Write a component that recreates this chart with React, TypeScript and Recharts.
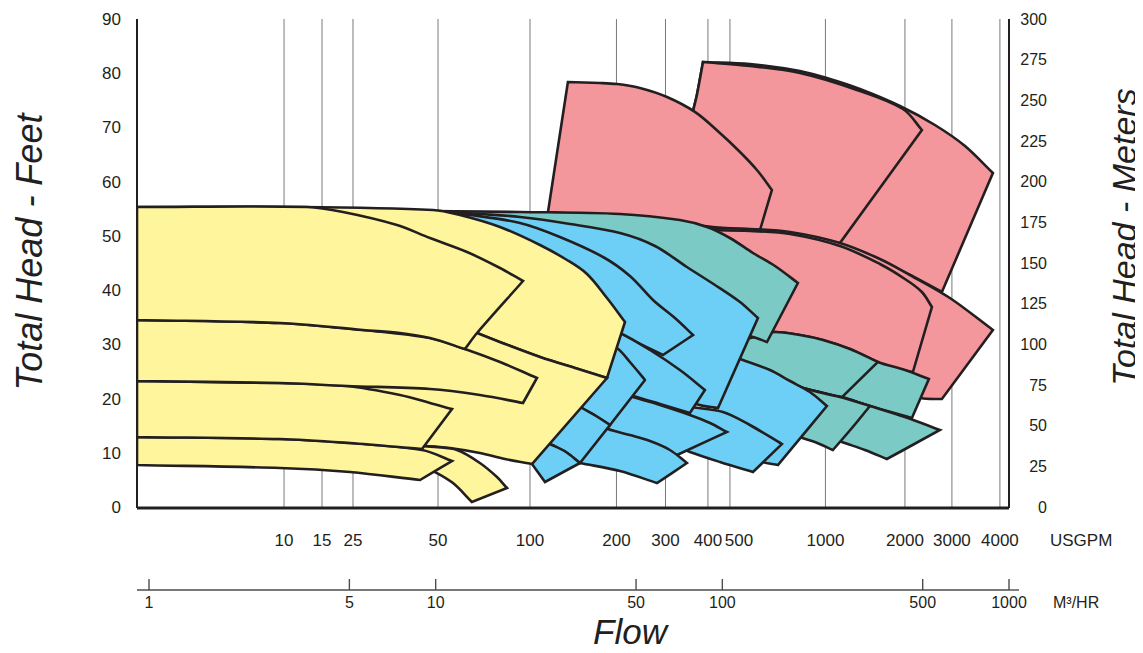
import React from "react";
import { ComposedChart, Scatter, XAxis, YAxis, CartesianGrid } from "recharts";

// every tile is a closed outline: [flow m³/hr, total head ft]
const pinkUpperWide = [[85.58, 82.07], [124.8, 81.7], [186.5, 80.41], [237.3, 78.94], [302.0, 77.1], [416.4, 73.96], [551.6, 70.45], [702.0, 66.58], [879.0, 61.6], [583.4, 39.65], [416.4, 43.71], [257.2, 48.14], [158.8, 49.99], [98.09, 50.54], [75.86, 50.72], [75.86, 65.85], [78.98, 72.86], [81.55, 75.99]];
const pinkUpperNarrow = [[85.58, 82.07], [124.8, 81.34], [186.5, 80.05], [294.8, 76.91], [426.6, 73.41], [496.9, 69.53], [257.2, 48.69], [158.8, 49.99], [98.09, 50.54], [75.86, 50.72], [75.86, 65.85], [78.98, 72.86], [81.55, 75.99]];
const pinkSmall = [[28.93, 78.38], [37.42, 78.2], [42.9, 78.02], [51.59, 77.27], [64.09, 75.62], [80.25, 72.86], [98.09, 68.98], [115.2, 65.48], [132.0, 62.16], [148.9, 58.47], [135.3, 51.09], [92.73, 51.65], [43.94, 53.49], [24.65, 54.41]];
const pinkLowerWide = [[86.96, 51.46], [124.8, 51.27], [172.2, 50.72], [257.2, 48.69], [354.6, 45.74], [451.1, 42.79], [622.1, 38.55], [879.0, 32.64], [583.4, 19.92], [492.9, 20.11], [354.6, 22.5], [186.5, 27.12], [115.2, 29.87], [86.96, 30.8]];
const pinkLowerNarrow = [[86.96, 51.09], [124.8, 50.9], [172.2, 50.35], [257.2, 48.14], [354.6, 44.81], [433.5, 42.06], [496.9, 39.65], [538.5, 36.88], [462.2, 24.9], [354.6, 26.19], [186.5, 28.96], [115.2, 30.25], [86.96, 30.8]];

const tealMidWide = [[83.54, 29.87], [115.2, 30.8], [143.1, 31.91], [152.6, 32.28], [186.5, 31.72], [224.3, 30.8], [278.7, 29.14], [349.0, 26.74], [433.5, 25.27], [525.6, 23.61], [458.5, 16.42], [327.2, 18.63], [261.4, 20.28], [191.1, 21.94], [146.6, 23.79], [115.2, 25.27], [83.54, 27.12]];
const tealMidNarrow = [[83.54, 29.87], [115.2, 30.8], [143.1, 31.91], [152.6, 32.28], [186.5, 31.72], [224.3, 30.8], [278.7, 29.14], [349.0, 26.74], [261.4, 20.28], [191.1, 21.94], [146.6, 23.79], [115.2, 25.27], [83.54, 27.12]];
const tealLowWide = [[172.2, 23.05], [191.1, 21.94], [257.2, 20.28], [327.2, 18.63], [433.5, 16.6], [574.1, 14.2], [375.1, 8.85], [314.3, 10.52], [261.4, 11.99], [202.1, 14.2], [172.2, 16.04]];
const tealLowNarrow = [[172.2, 23.05], [191.1, 21.94], [257.2, 20.28], [327.2, 18.63], [283.2, 14.57], [243.1, 10.52], [210.4, 11.99], [186.5, 12.91], [172.2, 13.84]];
const tealUpper = [[9.786, 54.59], [19.68, 54.41], [43.94, 54.04], [71.13, 52.93], [88.37, 51.65], [106.3, 49.61], [127.9, 46.85], [152.6, 44.45], [183.5, 41.31], [143.1, 30.43], [127.9, 31.36], [98.09, 33.02], [55.92, 38.18], [25.05, 46.48], [12.16, 52.01], [10.35, 53.85]];

const blueFarMid = [[94.24, 28.96], [118.0, 27.12], [146.6, 25.27], [172.2, 23.24], [202.1, 21.21], [231.7, 18.63], [156.3, 7.75], [135.3, 8.49], [110.7, 11.43], [94.24, 14.2]];
const blueTopWide = [[9.786, 54.59], [14.27, 54.04], [19.68, 53.49], [29.41, 52.2], [43.94, 50.54], [58.21, 48.14], [75.24, 44.26], [94.24, 40.95], [115.2, 37.81], [133.1, 34.86], [96.54, 18.26], [80.9, 19.0], [65.65, 21.58], [51.59, 25.27], [37.42, 29.87], [27.13, 34.86], [16.76, 42.79], [11.22, 50.16]];
const blueTopNarrow = [[9.786, 54.59], [13.17, 53.85], [19.68, 52.38], [27.13, 49.8], [38.33, 46.11], [47.61, 42.61], [57.29, 38.18], [68.34, 34.86], [78.98, 31.72], [62.06, 28.04], [51.59, 30.06], [42.22, 32.09], [31.87, 37.26], [19.68, 45.56], [12.16, 52.01]];
const blueFarLow = [[60.59, 19.74], [78.34, 18.44], [100.5, 17.53], [124.8, 15.12], [161.4, 11.62], [127.9, 6.45], [98.09, 8.3], [77.09, 10.15], [60.59, 12.35]];
const blueMidUpper = [[34.53, 34.12], [43.94, 32.09], [55.92, 28.96], [71.13, 25.27], [86.96, 21.58], [77.09, 17.34], [60.59, 19.0], [48.77, 20.47], [34.53, 22.5]];
const blueMidLower = [[34.53, 23.05], [48.77, 20.28], [60.59, 18.81], [77.09, 16.97], [90.53, 15.49], [103.8, 13.84], [69.45, 9.6], [51.59, 12.35], [40.55, 14.2], [34.53, 15.12]];
const blueMidBottom = [[34.53, 16.04], [39.9, 14.39], [47.61, 13.28], [55.92, 12.18], [65.65, 10.52], [75.24, 8.11], [59.16, 4.42], [43.94, 6.64], [31.87, 8.11], [28.25, 8.67]];
const blueSmallA = [[30.62, 31.72], [37.42, 30.8], [42.9, 29.32], [47.61, 26.74], [53.71, 23.43], [40.55, 15.12], [36.24, 16.78], [32.38, 18.26], [29.41, 19.74]];
const blueSmallB = [[29.41, 19.74], [32.38, 18.26], [36.24, 16.78], [40.55, 15.12], [31.87, 8.11], [28.47, 10.15], [25.45, 11.43], [23.11, 12.35]];
const blueSmallC = [[23.11, 12.35], [25.45, 11.43], [28.47, 10.15], [31.87, 8.11], [24.06, 4.61], [21.67, 7.93], [20.49, 9.6]];

const yellowTopWide = [[0.908, 55.33], [3.363, 55.33], [9.786, 54.78], [12.16, 53.85], [16.76, 51.65], [23.11, 48.32], [28.71, 45.56], [33.71, 42.98], [39.58, 38.55], [45.74, 34.12], [39.58, 23.79], [30.62, 25.63], [23.11, 27.67], [17.45, 30.06], [13.94, 32.09], [7.507, 38.18], [0.908, 40.02]];
const yellowMidWide = [[0.908, 43.71], [3.363, 42.79], [7.507, 38.18], [11.22, 34.12], [13.94, 32.09], [17.45, 30.06], [23.11, 27.67], [30.62, 25.63], [39.58, 23.79], [21.67, 7.93], [17.45, 8.85], [14.27, 9.96], [11.22, 10.88], [9.031, 11.25], [3.363, 10.15], [0.908, 10.52]];
const yellowTail = [[8.815, 11.25], [9.945, 11.07], [11.87, 10.52], [14.27, 8.11], [16.36, 5.53], [17.73, 3.5], [13.38, 0.92], [11.49, 4.42], [9.945, 6.45], [8.815, 7.56]];
const yellowBottom = [[0.908, 12.91], [2.863, 12.54], [5.024, 11.8], [8.958, 10.52], [11.4, 8.49], [8.815, 4.98], [5.024, 6.45], [2.863, 7.19], [0.908, 7.75]];
const yellowLow = [[0.908, 23.24], [2.863, 22.87], [4.904, 22.32], [7.507, 20.66], [9.552, 19.19], [11.4, 18.08], [8.958, 10.69], [5.024, 11.8], [2.863, 12.54], [0.908, 12.91]];
const yellowMid = [[0.908, 34.49], [2.863, 33.94], [5.577, 32.64], [9.552, 31.17], [12.65, 29.14], [16.76, 26.74], [22.56, 23.79], [20.16, 19.19], [14.27, 20.66], [9.552, 21.77], [4.904, 22.32], [2.863, 22.87], [0.908, 23.24]];
const yellowTop = [[0.908, 55.33], [3.557, 55.33], [4.75, 54.41], [7.328, 52.01], [9.552, 49.61], [12.86, 47.03], [16.76, 44.08], [20.16, 41.68], [13.94, 32.09], [12.65, 29.14], [9.552, 31.17], [7.507, 32.09], [5.577, 32.64], [2.863, 33.94], [0.908, 34.49]];

// axes
const headFeetTicks = [0, 10, 20, 30, 40, 50, 60, 70, 80, 90];
const headMeterTicks = [0, 25, 50, 75, 100, 125, 150, 175, 200, 225, 250, 275, 300];
const usgpmLabels = [10, 15, 25, 50, 100, 200, 300, 400, 500, 1000, 2000, 3000, 4000];
// where each printed USGPM label sits on the m³/hr flow scale
const usgpmAtFlow = [2.958, 4.013, 5.147, 10.19, 21.33, 42.72, 63.34, 89.08, 106.3, 228.9, 433.5, 632.2, 929.6];
const m3Ticks = [1, 5, 10, 50, 100, 500, 1000];

const PINK = "#f4979c";
const TEAL = "#7bcac5";
const BLUE = "#6dcff6";
const YELLOW = "#fff59c";
const INK = "#231f20";
const FONT = "'Liberation Sans', Arial, Helvetica, sans-serif";

// back to front
const tiles = [
  { pts: pinkUpperWide, fill: PINK },
  { pts: pinkUpperNarrow, fill: PINK },
  { pts: pinkSmall, fill: PINK },
  { pts: pinkLowerWide, fill: PINK },
  { pts: pinkLowerNarrow, fill: PINK },
  { pts: tealMidWide, fill: TEAL },
  { pts: tealMidNarrow, fill: TEAL },
  { pts: tealLowWide, fill: TEAL },
  { pts: tealLowNarrow, fill: TEAL },
  { pts: tealUpper, fill: TEAL },
  { pts: blueFarMid, fill: BLUE },
  { pts: blueTopWide, fill: BLUE },
  { pts: blueTopNarrow, fill: BLUE },
  { pts: blueFarLow, fill: BLUE },
  { pts: blueMidUpper, fill: BLUE },
  { pts: blueMidLower, fill: BLUE },
  { pts: blueMidBottom, fill: BLUE },
  { pts: blueSmallA, fill: BLUE },
  { pts: blueSmallB, fill: BLUE },
  { pts: blueSmallC, fill: BLUE },
  { pts: yellowTopWide, fill: YELLOW },
  { pts: yellowMidWide, fill: YELLOW },
  { pts: yellowTail, fill: YELLOW },
  { pts: yellowBottom, fill: YELLOW },
  { pts: yellowLow, fill: YELLOW },
  { pts: yellowMid, fill: YELLOW },
  { pts: yellowTop, fill: YELLOW },
];

const toRows = (a: number[][]) => a.map(([q, h]) => ({ q, h }));

// closed outline, curves smoothed, sharp turns kept as corners
function smoothClosed(pts: { x: number; y: number }[]) {
  const n = pts.length;
  const at = (i: number) => pts[(i + n) % n];
  const corner: boolean[] = [];
  const dir: { x: number; y: number }[] = [];
  for (let i = 0; i < n; i++) {
    const a = at(i - 1), b = at(i), c = at(i + 1);
    const ux = b.x - a.x, uy = b.y - a.y, vx = c.x - b.x, vy = c.y - b.y;
    const lu = Math.hypot(ux, uy) || 1, lv = Math.hypot(vx, vy) || 1;
    const cos = (ux * vx + uy * vy) / (lu * lv);
    corner.push(cos < 0.82);
    const dx = c.x - a.x, dy = c.y - a.y, ld = Math.hypot(dx, dy) || 1;
    dir.push({ x: dx / ld, y: dy / ld });
  }
  let d = `M${pts[0].x.toFixed(1)},${pts[0].y.toFixed(1)}`;
  for (let i = 0; i < n; i++) {
    const p = at(i), q = at(i + 1);
    const sx = q.x - p.x, sy = q.y - p.y, len = Math.hypot(sx, sy);
    const j = (i + 1) % n;
    const c1 = corner[i] ? { x: p.x + sx / 3, y: p.y + sy / 3 } : { x: p.x + (dir[i].x * len) / 3, y: p.y + (dir[i].y * len) / 3 };
    const c2 = corner[j] ? { x: q.x - sx / 3, y: q.y - sy / 3 } : { x: q.x - (dir[j].x * len) / 3, y: q.y - (dir[j].y * len) / 3 };
    d += ` C${c1.x.toFixed(1)},${c1.y.toFixed(1)} ${c2.x.toFixed(1)},${c2.y.toFixed(1)} ${q.x.toFixed(1)},${q.y.toFixed(1)}`;
  }
  return d + " Z";
}

const outline = (fill: string) => (p: any) => {
  const pts = p.points || [];
  if (!pts.length) return null;
  return <path d={smoothClosed(pts)} fill={fill} stroke={INK} strokeWidth={2.6} strokeLinejoin="miter" />;
};

const noDot = () => null;

function GpmTick(props: any) {
  const { x, y, payload } = props;
  const label = usgpmLabels[usgpmAtFlow.indexOf(payload.value)];
  const nudge = label === 500 ? 9 : 0;
  return (
    <text x={x + nudge} y={y} dy="0.71em" textAnchor="middle" fontSize={17} fill={INK} fontFamily={FONT}>
      {label}
    </text>
  );
}

function M3Tick(props: any) {
  const { x, y, payload } = props;
  const last = payload.value === m3Ticks[m3Ticks.length - 1];
  return (
    <g>
      <line x1={x} x2={x} y1={y - 11} y2={y} stroke="#4d4d4d" strokeWidth={1.4} />
      {last && <line x1={x} x2={x + 10} y1={y} y2={y} stroke="#4d4d4d" strokeWidth={1.4} />}
      <text x={x} y={y + 18} textAnchor="middle" fontSize={16} fill={INK} fontFamily={FONT}>
        {payload.value}
      </text>
    </g>
  );
}

function MeterTick(props: any) {
  const { x, y, payload } = props;
  return (
    <text x={x + 38} y={y} dy="0.355em" textAnchor="end" fontSize={16} fill={INK} fontFamily={FONT}>
      {payload.value}
    </text>
  );
}

const title: React.CSSProperties = {
  position: "absolute",
  whiteSpace: "nowrap",
  fontStyle: "italic",
  color: INK,
  lineHeight: "30px",
};

export default function App() {
  return (
    <div style={{ position: "relative", width: 1135, height: 645, fontFamily: FONT }}>
      <ComposedChart width={1135} height={645} margin={{ top: 11, right: 74, bottom: 23, left: 69 }}>
        <CartesianGrid horizontal={false} stroke="#7a7a7a" strokeWidth={1} />
        <XAxis
          xAxisId={0}
          dataKey="q"
          type="number"
          scale="log"
          domain={[0.908, 1000]}
          allowDataOverflow
          ticks={usgpmAtFlow}
          interval={0}
          height={82}
          tickLine={false}
          tickSize={0}
          tickMargin={26}
          axisLine={{ stroke: INK, strokeWidth: 3 }}
          tick={<GpmTick />}
        />
        <XAxis
          xAxisId="m3"
          dataKey="q"
          type="number"
          scale="log"
          domain={[0.908, 1000]}
          allowDataOverflow
          ticks={m3Ticks}
          interval={0}
          height={40}
          tickLine={false}
          tickSize={0}
          tickMargin={0}
          axisLine={{ stroke: "#4d4d4d", strokeWidth: 1.4 }}
          tick={<M3Tick />}
        />
        <XAxis xAxisId="frame" orientation="top" type="number" domain={[0, 1]} height={0} tick={false} tickLine={false} axisLine={{ stroke: INK, strokeWidth: 1.6 }} />
        <YAxis
          yAxisId={0}
          dataKey="h"
          type="number"
          domain={[-0.18, 90]}
          allowDataOverflow
          ticks={headFeetTicks}
          interval={0}
          width={60}
          tickLine={false}
          tickSize={0}
          tickMargin={16}
          axisLine={{ stroke: INK, strokeWidth: 2 }}
          tick={{ fontSize: 17, fill: INK, fontFamily: FONT }}
        />
        <YAxis
          yAxisId="m"
          orientation="right"
          type="number"
          domain={[-0.6, 300]}
          allowDataOverflow
          ticks={headMeterTicks}
          interval={0}
          width={60}
          tickLine={false}
          tickSize={0}
          tickMargin={0}
          axisLine={{ stroke: INK, strokeWidth: 2 }}
          tick={<MeterTick />}
        />
        <Scatter xAxisId="m3" data={m3Ticks.map((q) => ({ q, h: 0 }))} shape={noDot} isAnimationActive={false} />
        {tiles.map((t, i) => (
          <Scatter key={i} data={toRows(t.pts)} fill={t.fill} line={outline(t.fill)} shape={noDot} isAnimationActive={false} />
        ))}
      </ComposedChart>
      <div style={{ ...title, left: 22, top: 244, fontSize: 36, transform: "translate(-50%, -50%) rotate(-90deg)" }}>Total Head - Feet</div>
      <div style={{ ...title, left: 1116, top: 229, fontSize: 34, transform: "translate(-50%, -50%) rotate(-90deg)" }}>Total Head - Meters</div>
      <div style={{ ...title, left: 622, top: 624, fontSize: 35, transform: "translate(-50%, -50%)" }}>Flow</div>
      <div style={{ position: "absolute", left: 1042, top: 532, fontSize: 17, color: INK, lineHeight: 1, transform: "translateY(-50%)" }}>USGPM</div>
      <div style={{ position: "absolute", left: 1045, top: 595, fontSize: 16, color: INK, lineHeight: 1, transform: "translateY(-50%)" }}>M³/HR</div>
    </div>
  );
}
